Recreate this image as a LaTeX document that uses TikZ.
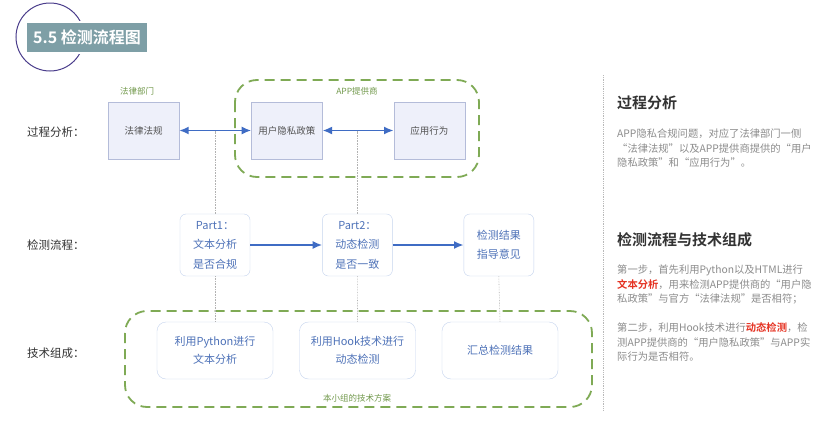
\documentclass[tikz,border=0pt]{standalone}
\usepackage{fontspec}
\setmainfont{Noto Sans CJK SC}[BoldFont={Noto Sans CJK SC Bold}]
\usetikzlibrary{arrows.meta,positioning}
\definecolor{boxfill}{HTML}{EEF0FA}
\definecolor{boxline}{HTML}{B4BCD9}
\definecolor{partline}{HTML}{C6D4EE}
\definecolor{parttext}{HTML}{4E72B8}
\definecolor{flowblue}{HTML}{3F6CC4}
\definecolor{groupgreen}{HTML}{7FAA55}
\definecolor{titlefill}{HTML}{7E9FA6}
\definecolor{ringblue}{HTML}{4B3E8C}
\definecolor{bodygray}{HTML}{8C8C8C}
\definecolor{darktext}{HTML}{333333}
\definecolor{emred}{HTML}{E53222}

\begin{document}
\begin{tikzpicture}[x=1pt, y=-1pt,
    every node/.style={font=\fontsize{9.5}{12}\selectfont, inner sep=0pt},
    rolebox/.style={draw=boxline, fill=boxfill, minimum width=71pt, minimum height=57pt, text=darktext!85},
    partbox/.style={draw=partline, fill=white, rounded corners=6pt, minimum width=70pt, minimum height=62pt,
        text=parttext, align=center, font=\fontsize{11}{19.5}\selectfont},
    toolbox/.style={draw=partline, fill=white, rounded corners=9pt, minimum width=116pt, minimum height=57pt,
        text=parttext, align=center, font=\fontsize{11}{18}\selectfont},
    grouplabel/.style={text=groupgreen!90!black, font=\fontsize{8.5}{10}\selectfont},
    rowlabel/.style={anchor=west, text=darktext, font=\fontsize{11.5}{13}\selectfont},
    group/.style={draw=groupgreen, line width=1.8pt, dash pattern=on 10pt off 6pt, rounded corners=22pt},
    twoway/.style={{Latex[length=9.5pt,width=8pt]}-{Latex[length=9.5pt,width=8pt]}, flowblue, line width=1.7pt},
    oneway/.style={-{Latex[length=9.5pt,width=8pt]}, flowblue, line width=1.7pt},
    link/.style={draw=gray!60, densely dotted, line width=0.6pt},
    heading/.style={anchor=west, text=darktext, font=\bfseries\fontsize{15}{18}\selectfont},
    para/.style={anchor=north west, align=left, text=bodygray, font=\fontsize{10.3}{14.5}\selectfont}]
    \useasboundingbox[fill=white] (0,0) rectangle (831,426);

    % title
    \draw[ringblue, line width=1pt] (50,37) circle (34);
    \node[fill=titlefill, draw=white, line width=2pt, minimum width=122pt, minimum height=31pt, text=white,
        font=\bfseries\fontsize{16}{18}\selectfont] (title) at (87,37.5) {5.5 检测流程图};

    % row labels
    \node[rowlabel] (rowA) at (27,132) {过程分析：};
    \node[rowlabel] (rowB) at (27,245) {检测流程：};
    \node[rowlabel] (rowC) at (27,353) {技术组成：};

    % process analysis
    \draw[group] (235,80) rectangle (479,177);
    \node[rolebox] (law) at (143.5,130.5) {法律法规};
    \node[rolebox, right=72pt of law] (policy) {用户隐私政策};
    \node[rolebox, right=71pt of policy] (behave) {应用行为};
    \node[grouplabel] (lawdept) at (137,91) {法律部门};
    \node[grouplabel] (provider) at (357,91) {APP提供商};
    \draw[twoway] (law) -- (policy);
    \draw[twoway] (policy) -- (behave);

    % detection flow
    \node[partbox] (part1) at (215,245) {Part1：\\文本分析\\是否合规};
    \node[partbox, right=72pt of part1] (part2) {Part2：\\动态检测\\是否一致};
    \node[partbox, right=71pt of part2] (result) {检测结果\\指导意见};
    \draw[oneway] (part1) -- (part2);
    \draw[oneway] (part2) -- (result);

    % techniques
    \draw[group] (125,311) rectangle (592,407);
    \node[toolbox] (tool1) at (215,350.5) {利用Python进行\\文本分析};
    \node[toolbox] (tool2) at (357.5,350.5) {利用Hook技术进行\\动态检测};
    \node[toolbox] (tool3) at (500,350.5) {汇总检测结果};
    \node[grouplabel] (team) at (357,398) {本小组的技术方案};

    % guide lines
    \draw[link] (part1.north) -- (part1.north |- law.east);
    \draw[link] (part2.north) -- (part2.north |- policy.east);
    \draw[link] (part1.south) -- (tool1.north);
    \draw[link] (part2.south) -- (tool2.north);
    \draw[link] (result.south) -- (tool3.north);

    % notes
    \draw[gray!55, densely dotted, line width=0.8pt] (603,75) -- (603,410);
    \node[heading] (noteA) at (617,103) {过程分析};
    \node[para] (textA) at (617,129) {APP隐私合规问题，对应了法律部门一侧\\“法律法规”以及APP提供商提供的“用户\\隐私政策”和“应用行为”。};
    \node[heading] (noteB) at (617,240) {检测流程与技术组成};
    \node[para] (textB) at (617,265) {第一步，首先利用Python以及HTML进行\\\textbf{\color{emred}文本分析}，用来检测APP提供商的“用户隐\\私政策”与官方“法律法规”是否相符；\\[14.5pt]第二步，利用Hook技术进行\textbf{\color{emred}动态检测}，检\\测APP提供商的“用户隐私政策”与APP实\\际行为是否相符。};
\end{tikzpicture}
\end{document}
